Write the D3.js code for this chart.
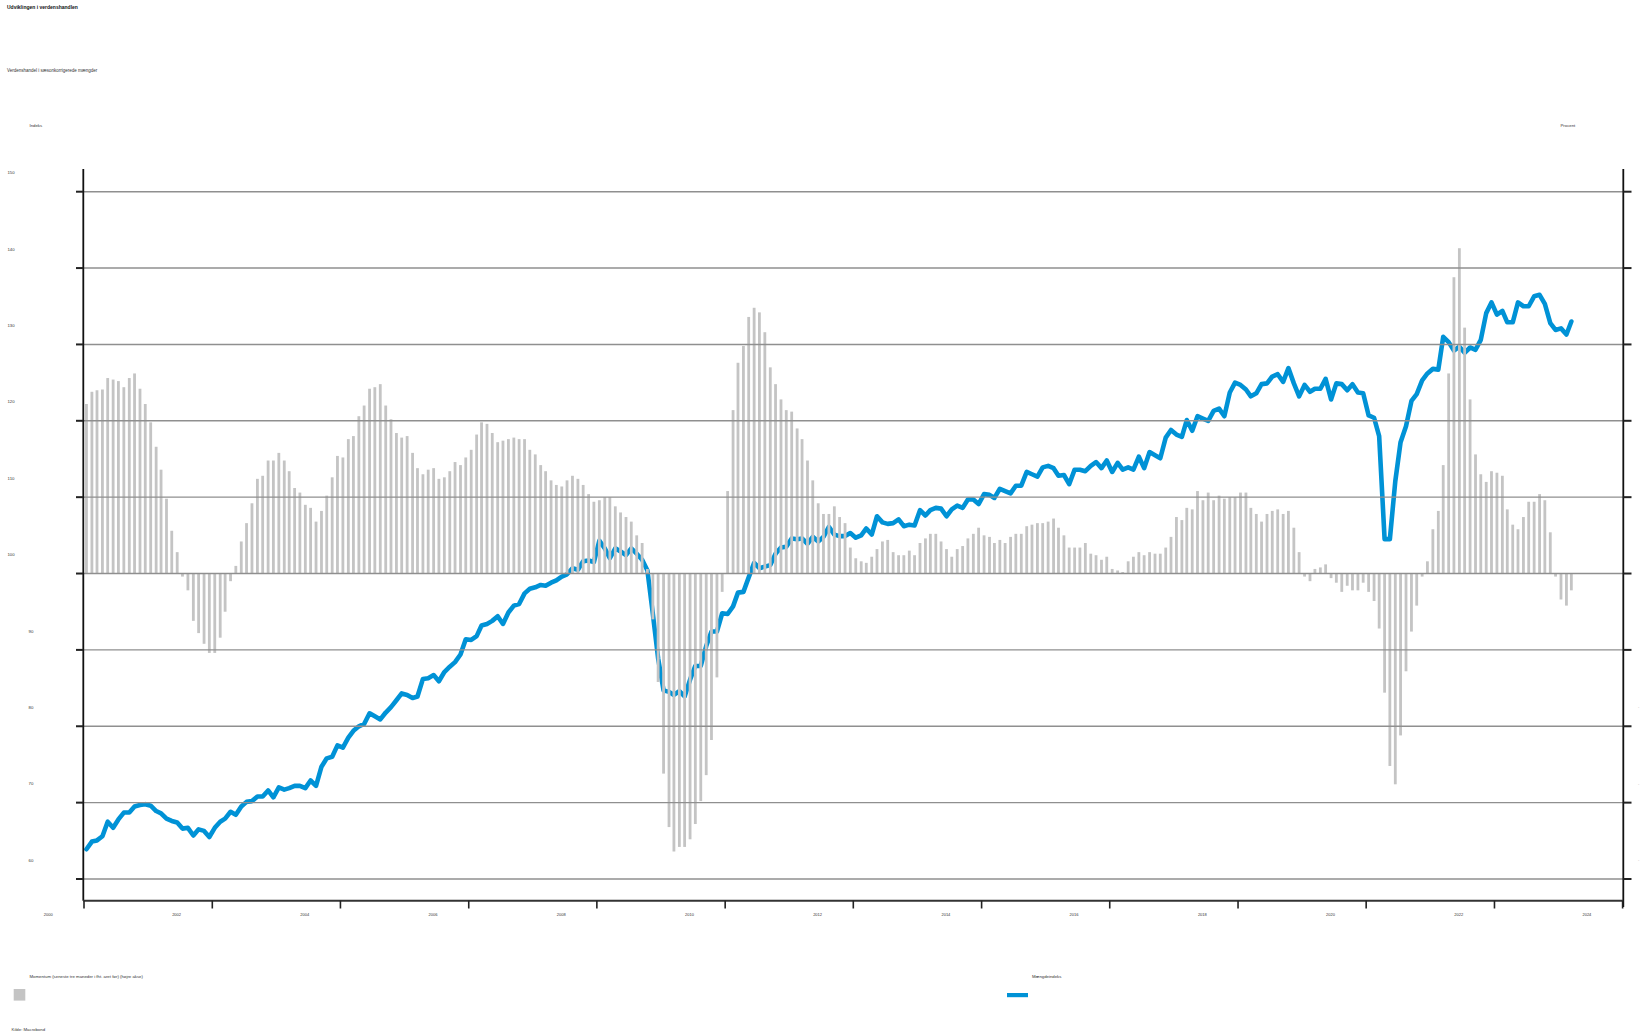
<!DOCTYPE html>
<html><head><meta charset="utf-8">
<script src="https://cdn.jsdelivr.net/npm/d3@7"></script>
<style>body{margin:0;background:#fff} svg{display:block} text{font-family:"Liberation Sans",Arial,sans-serif}</style>
</head><body><svg id="c" width="1650" height="1035"></svg>
<script>
const titleText = "Udviklingen i verdenshandlen";
const subtitleText = "Verdenshandel i sæsonkorrigerede mængder";
const leftAxisTitle = "Indeks";
const rightAxisTitle = "Procent";
const lineName = "Mængdeindeks";
const barName = "Momentum (seneste tre måneder i fht. året før) (højre akse)";
const sourceText = "Kilde: Macrobond";
const firstYear = 2000;
const indexValues = [
63.9,64.9,65.05,65.6,67.5,66.7,67.8,68.7,68.7,69.5,69.7,69.8,
69.6,68.9,68.6,67.9,67.6,67.4,66.6,66.7,65.7,66.5,66.3,65.5,
66.7,67.5,67.9,68.8,68.4,69.5,70.1,70.2,70.8,70.8,71.6,70.7,
72.0,71.7,71.9,72.2,72.2,71.9,72.9,72.2,74.7,75.8,76.0,77.5,
77.2,78.5,79.4,80.0,80.3,81.7,81.3,80.9,81.8,82.5,83.4,84.3,
84.1,83.7,83.9,86.2,86.3,86.7,85.9,87.1,87.8,88.4,89.4,91.4,
91.3,91.8,93.2,93.4,93.8,94.4,93.4,94.9,95.8,96.0,97.4,98.0,
98.2,98.5,98.4,98.8,99.1,99.6,99.9,100.7,100.5,101.6,101.7,101.5,
104.3,103.3,102.0,103.3,102.9,102.4,103.3,102.6,101.8,100.4,94.7,88.9,
84.7,84.5,84.1,84.6,83.9,86.1,87.9,87.9,90.5,92.4,92.4,94.8,
94.7,95.7,97.5,97.6,99.5,101.4,100.7,100.9,101.1,102.6,103.4,103.5,
104.6,104.5,104.6,103.9,104.8,104.2,104.8,106.1,105.1,104.9,104.9,105.3,
104.7,105.0,105.9,105.1,107.5,106.7,106.5,106.6,107.1,106.2,106.4,106.3,
108.3,107.6,108.3,108.6,108.5,107.5,108.4,108.9,108.6,109.7,109.7,109.1,
110.4,110.3,109.9,111.1,110.8,110.5,111.5,111.5,113.3,113.0,112.7,113.9,
114.1,113.8,112.8,112.9,111.7,113.6,113.6,113.4,114.1,114.6,113.8,114.8,
113.3,114.5,113.6,113.9,113.6,115.3,113.8,115.9,115.5,115.1,117.8,118.8,
118.2,117.9,120.1,118.7,120.6,120.3,120.0,121.3,121.6,120.6,123.7,125.0,
124.7,124.1,123.2,123.6,124.8,124.9,125.8,126.1,125.1,126.9,124.9,123.2,
124.7,123.8,124.2,124.2,125.5,122.8,124.9,124.8,124.0,124.8,123.7,123.6,
120.7,120.4,118.0,104.5,104.5,112.1,117.2,119.3,122.6,123.5,125.3,126.2,
126.8,126.7,131.0,130.3,129.2,129.7,128.9,129.6,129.3,130.6,134.1,135.5,
133.9,134.4,132.9,132.9,135.5,135.0,135.0,136.3,136.5,135.3,132.8,131.9,
132.1,131.3,133.0];
const momentumValues = [
11.1,11.9,12.0,12.05,12.8,12.7,12.6,12.2,12.8,13.1,12.1,11.1,
9.9,8.3,6.8,4.9,2.8,1.4,-0.2,-1.1,-3.1,-3.9,-4.6,-5.2,
-5.2,-4.2,-2.5,-0.5,0.5,2.1,3.3,4.6,6.2,6.4,7.4,7.4,
7.9,7.4,6.7,5.6,5.3,4.5,4.3,3.4,4.1,5.1,6.3,7.7,
7.6,8.8,9.0,10.3,11.0,12.1,12.2,12.4,11.0,10.1,9.2,8.9,
9.0,7.9,6.9,6.5,6.8,6.9,6.2,6.3,6.7,7.3,7.1,7.6,
8.1,9.1,9.9,9.8,9.2,8.6,8.7,8.8,8.9,8.8,8.8,8.1,
7.8,7.1,6.7,6.1,5.8,5.7,6.1,6.4,6.2,5.8,5.2,4.7,
4.8,5.0,5.0,4.4,4.0,3.7,3.4,2.5,2.0,0.3,-3.0,-7.1,
-13.1,-16.6,-18.2,-17.9,-17.9,-17.4,-16.4,-14.9,-13.2,-10.9,-6.8,-1.2,
5.4,10.7,13.8,14.9,16.8,17.4,17.1,15.8,13.5,12.4,11.4,10.7,
10.6,9.5,8.8,7.4,6.1,4.6,3.9,3.9,4.4,3.7,3.3,1.7,
1.0,0.8,0.7,1.1,1.6,2.1,2.2,1.4,1.2,1.2,1.5,1.2,
2.0,2.3,2.6,2.6,2.1,1.6,1.1,1.6,1.8,2.3,2.6,3.0,
2.5,2.4,2.0,2.2,2.0,2.4,2.6,2.6,3.1,3.2,3.3,3.3,
3.4,3.6,3.0,2.5,1.7,1.7,1.7,2.0,1.3,1.2,0.9,1.1,
0.3,0.2,0.1,0.8,1.1,1.4,1.2,1.4,1.3,1.3,1.7,2.4,
3.7,3.5,4.3,4.2,5.4,4.8,5.3,4.8,5.1,4.9,5.0,5.0,
5.3,5.3,4.3,3.9,3.4,3.9,4.1,4.2,3.9,4.1,3.0,1.4,
-0.2,-0.5,0.3,0.4,0.6,-0.3,-0.6,-1.2,-0.8,-1.1,-1.1,-0.6,
-1.2,-1.8,-3.6,-7.8,-12.6,-13.8,-10.6,-6.4,-3.8,-2.1,-0.2,0.8,
2.9,4.1,7.1,13.1,19.4,21.3,16.1,11.4,7.8,6.5,6.0,6.7,
6.6,6.4,4.2,3.2,2.9,3.7,4.7,4.7,5.2,4.8,2.7,-0.2,
-1.7,-2.1,-1.1];
const leftTicks = [60,70,80,90,100,110,120,130,140,150];
const rightTicks = [-20,-15,-10,-5,0,5,10,15,20,25];
const rightVisibleLabels = [-10,-15,-20];
const xTickYears = [2000,2002,2004,2006,2008,2010,2012,2014,2016,2018,2020,2022,2024];

const svg = d3.select("#c");
const months = indexValues.map((_, i) => new Date(firstYear, i, 15));

const x = d3.scaleTime().domain([new Date(2000,0,1), new Date(2024,0,1)]).range([84, 1622.6]);
const yL = d3.scaleLinear().domain([60,150]).range([879, 191.7]);
const yR = d3.scaleLinear().domain([-20,25]).range([879, 191.7]);

const plotL = 83.3, plotR = 1623.3, axisTop = 169, axisBottom = 900.7;

// line
svg.append("path")
  .datum(indexValues)
  .attr("fill","none")
  .attr("stroke","#0092d6")
  .attr("stroke-width",4.6)
  .attr("stroke-linejoin","round")
  .attr("stroke-linecap","round")
  .attr("d", d3.line().x((d,i)=>x(months[i])).y(d=>yL(d)));

// bars
svg.append("g").selectAll("rect").data(momentumValues).join("rect")
  .attr("x",(d,i)=>x(months[i])-1.4)
  .attr("width",2.8)
  .attr("y",d=>Math.min(yR(d),yR(0)))
  .attr("height",d=>Math.abs(yR(d)-yR(0)))
  .attr("fill","#c4c4c4");

// gridlines
svg.append("g").selectAll("line").data(leftTicks).join("line")
  .attr("x1",plotL).attr("x2",plotR)
  .attr("y1",d=>yL(d)).attr("y2",d=>yL(d))
  .attr("stroke","#8f8f8f").attr("stroke-width",1.4);

// left axis
const gl = svg.append("g");
gl.append("line").attr("x1",plotL).attr("x2",plotL).attr("y1",axisTop).attr("y2",axisBottom).attr("stroke","#111").attr("stroke-width",1.8);
gl.selectAll("line.t").data(leftTicks).join("line").attr("class","t")
  .attr("x1",76).attr("x2",plotL).attr("y1",d=>yL(d)).attr("y2",d=>yL(d))
  .attr("stroke","#222").attr("stroke-width",2);
gl.selectAll("text").data(leftTicks).join("text")
  .attr("x",d=>d>=100 ? 11 : 31).attr("y",d=>yL(d)-18.5)
  .attr("text-anchor","middle").attr("dominant-baseline","middle")
  .attr("font-size",4.3).attr("fill","#333").text(d=>d);

// right axis
const gr = svg.append("g");
gr.append("line").attr("x1",plotR).attr("x2",plotR).attr("y1",axisTop).attr("y2",907).attr("stroke","#111").attr("stroke-width",1.8);
gr.selectAll("line.t").data(rightTicks).join("line").attr("class","t")
  .attr("x1",plotR).attr("x2",1631.5).attr("y1",d=>yR(d)).attr("y2",d=>yR(d))
  .attr("stroke","#222").attr("stroke-width",2);
gr.selectAll("text").data(rightVisibleLabels).join("text")
  .attr("x",1638).attr("y",d=>yR(d)-19)
  .attr("dominant-baseline","middle")
  .attr("font-size",4).attr("fill","#999").text("-");

// bottom axis
const gb = svg.append("g");
gb.append("line").attr("x1",plotL).attr("x2",plotR).attr("y1",axisBottom).attr("y2",axisBottom).attr("stroke","#333").attr("stroke-width",2);
gb.selectAll("line.t").data(xTickYears).join("line").attr("class","t")
  .attr("x1",d=>x(new Date(d,0,1))).attr("x2",d=>x(new Date(d,0,1)))
  .attr("y1",axisBottom).attr("y2",908.5)
  .attr("stroke","#222").attr("stroke-width",1.6);
gb.selectAll("text").data(xTickYears).join("text")
  .attr("x",d=>x(new Date(d,0,1))-35.7).attr("y",914.5)
  .attr("text-anchor","middle").attr("dominant-baseline","middle")
  .attr("font-size",4).attr("fill","#333").text(d=>d);

// titles
svg.append("text").attr("x",7).attr("y",7.5).attr("dominant-baseline","middle")
  .attr("font-size",5).attr("font-weight","bold").attr("fill","#111").text(titleText);
svg.append("text").attr("x",7).attr("y",70.5).attr("dominant-baseline","middle")
  .attr("font-size",4.5).attr("fill","#333").text(subtitleText);
svg.append("text").attr("x",29.5).attr("y",126).attr("dominant-baseline","middle")
  .attr("font-size",4.3).attr("fill","#333").text(leftAxisTitle);
svg.append("text").attr("x",1560.5).attr("y",126).attr("dominant-baseline","middle")
  .attr("font-size",4.3).attr("fill","#333").text(rightAxisTitle);

// legend
svg.append("rect").attr("x",13.7).attr("y",989).attr("width",11.6).attr("height",11.6).attr("fill","#c4c4c4");
svg.append("text").attr("x",29.5).attr("y",976.5).attr("dominant-baseline","middle")
  .attr("font-size",4.3).attr("fill","#333").text(barName);
svg.append("rect").attr("x",1007).attr("y",993).attr("width",21).attr("height",4.2).attr("fill","#0092d6");
svg.append("text").attr("x",1032).attr("y",976.5).attr("dominant-baseline","middle")
  .attr("font-size",4.3).attr("fill","#333").text(lineName);
svg.append("text").attr("x",11.6).attr("y",1030).attr("dominant-baseline","middle")
  .attr("font-size",4.3).attr("fill","#333").text(sourceText);
</script></body></html>
